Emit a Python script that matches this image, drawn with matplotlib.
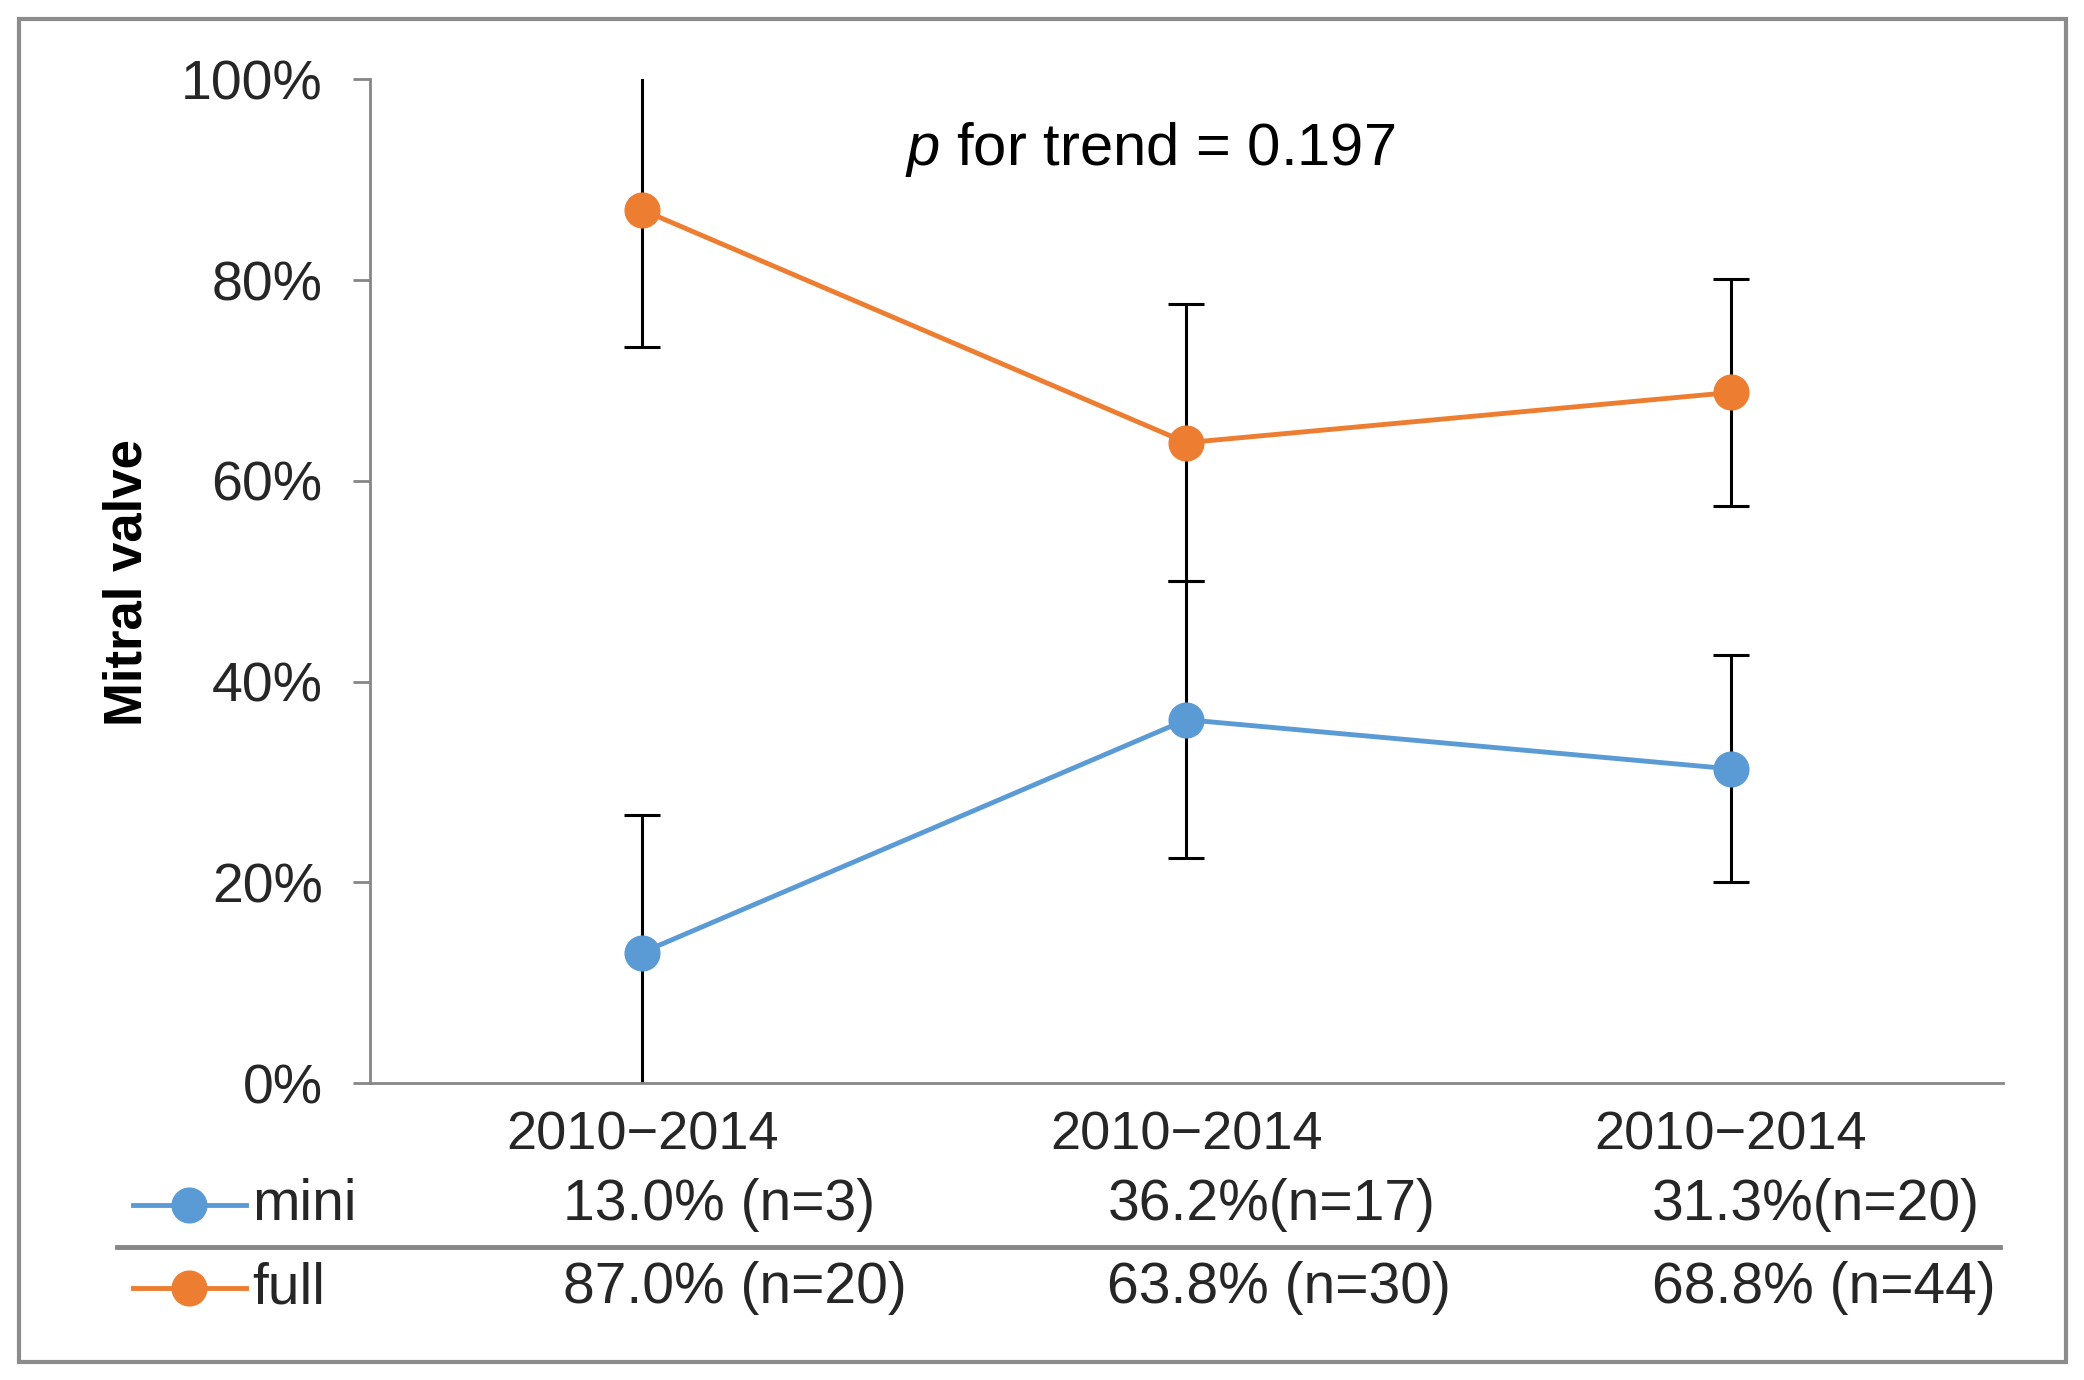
import matplotlib
matplotlib.use("Agg")
import matplotlib.pyplot as plt
from matplotlib.lines import Line2D
from matplotlib.patches import Rectangle
from matplotlib.ticker import FuncFormatter
from matplotlib.transforms import blended_transform_factory

plt.rcParams['font.family'] = ['Liberation Sans', 'DejaVu Sans']
plt.rcParams['mathtext.fontset'] = 'custom'
plt.rcParams['mathtext.rm'] = 'Liberation Sans'
plt.rcParams['mathtext.it'] = 'Liberation Sans:italic'

# data
periods = ["2010\u22122014", "2010\u22122014", "2010\u22122014"]
mini_pct = [13.0, 36.2, 31.3]
full_pct = [87.0, 63.8, 68.8]
ci_err = [13.7, 13.8, 11.3]
mini_labels = ["13.0% (n=3)", "36.2%(n=17)", "31.3%(n=20)"]
full_labels = ["87.0% (n=20)", "63.8% (n=30)", "68.8% (n=44)"]

blue = "#5B9BD5"
orange = "#ED7D31"
grey = "#868686"

fig = plt.figure(figsize=(20.84, 13.8), dpi=100)
ax = fig.add_axes([0.1775, 0.2152, 0.7836, 0.7273])

x = list(range(len(periods)))
for vals in (full_pct, mini_pct):
    ax.errorbar(x, vals, yerr=ci_err, fmt='none', ecolor='black',
                elinewidth=2.2, capsize=13, capthick=2.2, zorder=2)
ax.plot(x, full_pct, color=orange, lw=3.5, marker='o', ms=25, zorder=3)
ax.plot(x, mini_pct, color=blue, lw=3.5, marker='o', ms=25, zorder=3)

ax.set_xlim(-0.5, 2.5)
ax.set_ylim(0, 100)
ax.set_yticks([0, 20, 40, 60, 80, 100])
ax.yaxis.set_major_formatter(FuncFormatter(lambda v, p: f"{v:.0f}%"))
ax.set_xticks(x)
ax.set_xticklabels(periods)
for s in ("top", "right"):
    ax.spines[s].set_visible(False)
for s in ("left", "bottom"):
    ax.spines[s].set_color(grey)
    ax.spines[s].set_linewidth(2)
ax.tick_params(axis='y', length=12, width=2, color=grey, pad=22,
               labelsize=40, labelcolor='#262626')
ax.tick_params(axis='x', length=0, pad=20, labelsize=39, labelcolor='#262626')

fig.text(0.061, 0.578, "Mitral valve", rotation=90, ha='center', va='center',
         fontsize=38, fontweight='bold')

ax.text(0.478, 0.93, r"$\mathit{p}$ for trend = 0.197", transform=ax.transAxes,
        ha='center', va='center', fontsize=43)

# table under the axis
trans = blended_transform_factory(ax.transData, fig.transFigure)
y_mini, y_full = 0.127, 0.0665
for i in x:
    ax.text(i - 0.145, y_mini, mini_labels[i], transform=trans, ha='left',
            va='center', fontsize=41, color='#262626')
    ax.text(i - 0.145, y_full, full_labels[i], transform=trans, ha='left',
            va='center', fontsize=41, color='#262626')

for yy, col, name in ((y_mini, blue, "mini"), (y_full, orange, "full")):
    fig.add_artist(Line2D([0.0638, 0.0907, 0.118], [yy, yy, yy], color=col,
                          lw=3.5, marker='o', ms=25, markevery=[1],
                          transform=fig.transFigure))
    fig.text(0.121, yy, name, ha='left', va='center', fontsize=41,
             color='#262626')

fig.add_artist(Line2D([0.0561, 0.9597], [0.0964, 0.0964], color=grey, lw=3.5,
                      transform=fig.transFigure))

fig.add_artist(Rectangle((0.0091, 0.013), 0.9823, 0.9732, fill=False,
                         edgecolor='#8c8c8c', lw=3, transform=fig.transFigure))

fig.savefig("out.png", dpi=100)
